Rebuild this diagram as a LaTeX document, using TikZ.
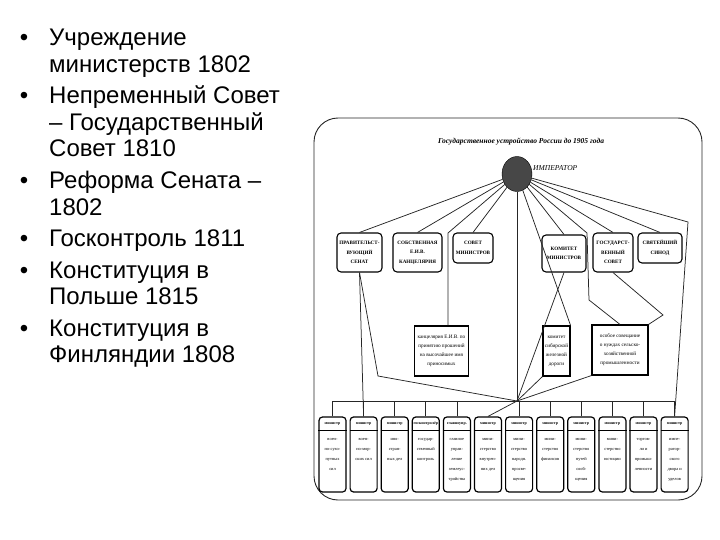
\documentclass[tikz,border=0pt]{standalone}
\usepackage{fontspec}
\setmainfont{Liberation Serif}
\setsansfont{Liberation Sans}
\usetikzlibrary{positioning, calc, shapes.geometric}

\begin{document}
\begin{tikzpicture}[
    x=1pt, y=-1pt,
    bullettext/.style={anchor=base west, inner sep=0pt,
        font=\sffamily\fontsize{24}{26}\selectfont},
    bulletdot/.style={anchor=base, inner sep=0pt,
        font=\sffamily\fontsize{24}{26}\selectfont},
    frame/.style={draw=black!85, line width=0.9pt, rounded corners=24pt},
    link/.style={draw=black!85, line width=0.75pt},
    topbox/.style={
        rectangle, rounded corners=4pt, draw=black, line width=1.1pt,
        align=center, inner sep=1pt,
        font=\bfseries\fontsize{5.1}{9.5}\selectfont
    },
    midbox/.style={
        rectangle, draw=black, line width=1.1pt, align=center,
        inner sep=1pt, font=\fontsize{5.2}{9}\selectfont
    },
    minbox/.style={
        rectangle, rounded corners=3.5pt, draw=black, line width=1.2pt,
        minimum width=27pt, minimum height=75pt, inner sep=0pt
    },
    minhead/.style={inner sep=0pt, font=\bfseries\fontsize{4}{4}\selectfont},
    minbody/.style={anchor=north, align=center, inner sep=0pt,
        font=\fontsize{4.4}{10}\selectfont}
]
    \useasboundingbox (0,0) rectangle (720,540);

    % --- BULLET LIST ---
    \foreach \yb/\txt [count=\n] in {
        46/Учреждение,
        72.5/министерств 1802,
        104/Непременный Совет,
        130.5/– Государственный,
        157/Совет 1810,
        188.5/Реформа Сената –,
        215/1802,
        246.5/Госконтроль 1811,
        278/Конституция в,
        304.5/Польше 1815,
        336/Конституция в,
        362.5/Финляндии 1808
    } {
        \node[bullettext] (line\n) at (49,\yb) {\txt};
    }
    \foreach \yb [count=\n] in {46,104,188.5,246.5,278,336} {
        \node[bulletdot] (dot\n) at (24,\yb) {•};
    }

    % --- FRAME AND TITLE ---
    \draw[frame] (314,118) rectangle (702,500);
    \node[font=\bfseries\itshape\fontsize{7.5}{8}\selectfont] (title)
        at (521,142) {Государственное устройство России до 1905 года};

    % --- EMPEROR ---
    \node[ellipse, draw=black, fill=black!72, minimum width=30pt,
        minimum height=35pt, inner sep=0pt] (emp) at (517,174) {};
    \node[font=\itshape\fontsize{7.5}{8}\selectfont, anchor=west,
        inner sep=0pt] (empname) at (533,168) {ИМПЕРАТОР};

    % --- TOP ROW ---
    \node[topbox, minimum width=45pt, minimum height=39pt] (senat)
        at (359.5,252.5) {ПРАВИТЕЛЬСТ-\\ВУЮЩИЙ\\СЕНАТ};
    \node[topbox, minimum width=49pt, minimum height=39pt] (kanc)
        at (417.5,252.5) {СОБСТВЕННАЯ\\Е.И.В.\\КАНЦЕЛЯРИЯ};
    \node[topbox, minimum width=40pt, minimum height=30pt] (sovmin)
        at (473,248) {СОВЕТ\\МИНИСТРОВ};
    \node[topbox, minimum width=44pt, minimum height=37pt] (komin)
        at (564,253.5) {КОМИТЕТ\\МИНИСТРОВ};
    \node[topbox, minimum width=40pt, minimum height=39pt] (gossov)
        at (613,252.5) {ГОСУДАРСТ-\\ВЕННЫЙ\\СОВЕТ};
    \node[topbox, minimum width=44pt, minimum height=30pt] (sinod)
        at (660,248) {СВЯТЕЙШИЙ\\СИНОД};

    % --- MIDDLE ROW ---
    \node[midbox, minimum width=54pt, minimum height=50pt] (prosh)
        at (441.5,351) {канцелярия Е.И.В. по\\принятию прошений\\на высочайшее имя\\приносимых};
    \node[midbox, minimum width=27pt, minimum height=50pt] (komsib)
        at (556.5,351) {комитет\\сибирской\\железной\\дороги};
    \node[midbox, minimum width=56pt, minimum height=50pt] (osob)
        at (620,350) {особое совещание\\о нуждах сельско-\\хозяйственной\\промышленности};

    % --- MINISTRIES ---
    \foreach \i/\hd/\la/\lb/\lc/\ld/\le in {
        1/министр/воен-/но-сухо-/путных/сил/,
        2/министр/воен-/но-мор-/ских сил//,
        3/министр/ино-/стран-/ных дел//,
        4/госконтролёр/государ-/ственный/контроль//,
        5/главноупр./главное/управ-/ление/землеус-/тройства,
        6/министр/мини-/стерство/внутрен-/них дел/,
        7/министр/мини-/стерство/народн./просве-/щения,
        8/министр/мини-/стерство/финансов//,
        9/министр/мини-/стерство/путей/сооб-/щения,
        10/министр/мини-/стерство/юстиции//,
        11/министр/торгов-/ли и/промыш-/ленности/,
        12/министр/импе-/ратор-/ского/двора и/уделов
    } {
        \pgfmathsetmacro{\mx}{332.5+31.1*(\i-1)}
        \node[minbox] (min\i) at (\mx,454.5) {};
        \node[minhead] (minh\i) at (\mx,424) {\hd};
        \draw[line width=0.6pt] ($(min\i.north west)+(0,14)$)
            -- ($(min\i.north east)+(0,14)$);
        \node[minbody] (minb\i) at (\mx,438) {\la\\\lb\\\lc\\\ld\\\le};
    }

    % --- BUS ---
    \coordinate (busL) at (332.5,401);
    \coordinate (busR) at (674.6,401);
    \coordinate (hub) at (517,401);
    \draw[link] (busL) -- (busR);
    \foreach \i in {1,2,3,4,5,7,8,9,10,11,12} {
        \draw[link] (min\i.north) -- (min\i.north |- busL);
    }
    \draw[link] (hub) -- (min6.north);

    % --- EMPEROR LINKS ---
    \coordinate (prTop) at (448,233);
    \coordinate (kominR) at (587,233);
    \coordinate (osobL) at (589,300);
    \coordinate (rightTop) at (688,222);
    \draw[link] (emp) -- (senat.north);
    \draw[link] (emp) -- (kanc.north);
    \draw[link] (emp) -- (prTop) -- (prTop |- prosh.north);
    \draw[link] (emp) -- (sovmin.north);
    \draw[link] (emp.south) -- (hub);
    \draw[link] (emp) -- (komsib.north east);
    \draw[link] (emp) -- (komin.north);
    \draw[link] (emp) -- (kominR) -- (osobL) -- (osob.north);
    \draw[link] (emp) -- (gossov.north);
    \draw[link] (emp) -- (sinod.north);
    \draw[link] (emp) -- (rightTop) -- (min12.north);

    % --- LOWER LINKS ---
    \coordinate (senLow) at (378,376);
    \coordinate (osobR) at (663,315);
    \draw[link] (senat.south) -- (min2.north);
    \draw[link] (senat.south) -- (senLow) -- (hub);
    \draw[link] (komin.south) -- (hub);
    \draw[link] (komsib.south west) -- (hub);
    \draw[link] (gossov.south) -- (osobR) -- (osob.north east);
    \draw[link] (osob.south west) -- (hub);
\end{tikzpicture}
\end{document}
